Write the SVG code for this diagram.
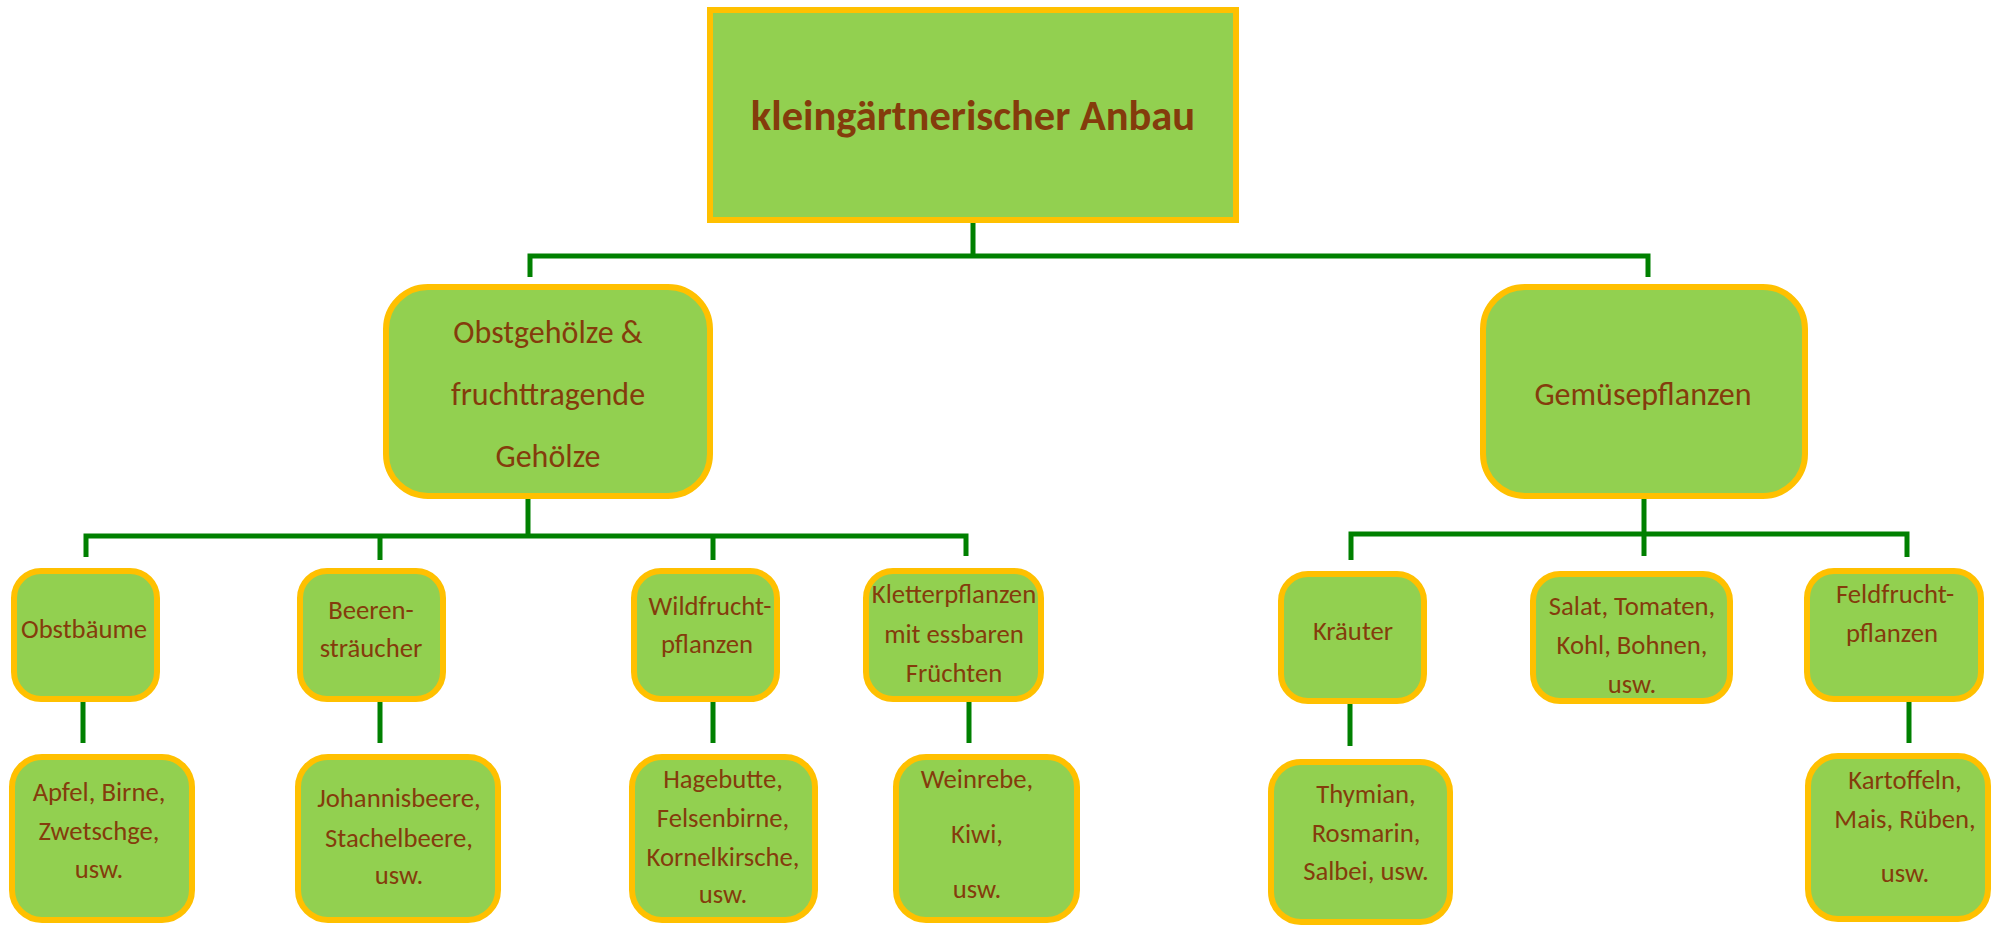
<svg xmlns="http://www.w3.org/2000/svg" width="1992" height="925" viewBox="0 0 1992 925">
<style>
.box{fill:#92D050;stroke:#FFC000;stroke-width:6}
.t{font-family:Carlito,Lato,"Liberation Sans",sans-serif;fill:#843C0C;text-anchor:middle}
.t0{font-size:42.5px;font-weight:bold}
.t2{font-size:32px}
.t3{font-size:26.7px}
.c{fill:none;stroke:#008000;stroke-width:5}
</style>
<rect width="1992" height="925" fill="#FFFFFF"/>
<g id="connectors">
<path class="c" d="M973,223 V256 M530,277 V256 H1648 V277"/>
<path class="c" d="M528,499 V536 M86,557 V536 H966 V556 M380,536 V560 M713,536 V560"/>
<path class="c" d="M1644,499 V556 M1351,560 V534 H1907 V557"/>
<path class="c" d="M83,702 V743 M380,702 V743 M713,702 V743 M969,702 V743 M1350,704 V746 M1909,702 V743"/>
</g>
<g id="root">
<rect class="box" x="710" y="10" width="526" height="210"/>
<text class="t t0" x="973" y="130">kleingärtnerischer Anbau</text>
</g>
<g id="obstgehoelze">
<rect class="box" x="386" y="287" width="324" height="209" rx="42"/>
<text class="t t2" x="548" y="343">Obstgehölze &amp;</text>
<text class="t t2" x="548" y="405">fruchttragende</text>
<text class="t t2" x="548" y="467">Gehölze</text>
</g>
<g id="gemuese">
<rect class="box" x="1483" y="287" width="322" height="209" rx="42"/>
<text class="t t2" x="1643" y="405">Gemüsepflanzen</text>
</g>
<g id="obstbaeume">
<rect class="box" x="14" y="571" width="143" height="128" rx="27"/>
<text class="t t3" x="84" y="638">Obstbäume</text>
</g>
<g id="beeren">
<rect class="box" x="300" y="571" width="143" height="128" rx="27"/>
<text class="t t3" x="371" y="619">Beeren-</text>
<text class="t t3" x="371" y="657">sträucher</text>
</g>
<g id="wildfrucht">
<rect class="box" x="634" y="571" width="143" height="128" rx="27"/>
<text class="t t3" x="710" y="615">Wildfrucht-</text>
<text class="t t3" x="707" y="653">pflanzen</text>
</g>
<g id="kletter">
<rect class="box" x="866" y="571" width="175" height="128" rx="27"/>
<text class="t t3" x="954" y="603">Kletterpflanzen</text>
<text class="t t3" x="954" y="643">mit essbaren</text>
<text class="t t3" x="954" y="682">Früchten</text>
</g>
<g id="apfel">
<rect class="box" x="12" y="757" width="180" height="163" rx="30"/>
<text class="t t3" x="99" y="801">Apfel, Birne,</text>
<text class="t t3" x="99" y="840">Zwetschge,</text>
<text class="t t3" x="99" y="878">usw.</text>
</g>
<g id="johannis">
<rect class="box" x="298" y="757" width="200" height="163" rx="30"/>
<text class="t t3" x="399" y="807">Johannisbeere,</text>
<text class="t t3" x="399" y="847">Stachelbeere,</text>
<text class="t t3" x="399" y="884">usw.</text>
</g>
<g id="hagebutte">
<rect class="box" x="632" y="757" width="183" height="163" rx="30"/>
<text class="t t3" x="723" y="788">Hagebutte,</text>
<text class="t t3" x="723" y="827">Felsenbirne,</text>
<text class="t t3" x="723" y="866">Kornelkirsche,</text>
<text class="t t3" x="723" y="903">usw.</text>
</g>
<g id="weinrebe">
<rect class="box" x="896" y="757" width="181" height="163" rx="30"/>
<text class="t t3" x="977" y="788">Weinrebe,</text>
<text class="t t3" x="977" y="843">Kiwi,</text>
<text class="t t3" x="977" y="898">usw.</text>
</g>
<g id="kraeuter">
<rect class="box" x="1281" y="574" width="143" height="127" rx="27"/>
<text class="t t3" x="1353" y="640">Kräuter</text>
</g>
<g id="salat">
<rect class="box" x="1533" y="574" width="197" height="127" rx="27"/>
<text class="t t3" x="1632" y="615">Salat, Tomaten,</text>
<text class="t t3" x="1632" y="654">Kohl, Bohnen,</text>
<text class="t t3" x="1632" y="693">usw.</text>
</g>
<g id="feldfrucht">
<rect class="box" x="1807" y="571" width="174" height="128" rx="27"/>
<text class="t t3" x="1895" y="603">Feldfrucht-</text>
<text class="t t3" x="1892" y="642">pflanzen</text>
</g>
<g id="thymian">
<rect class="box" x="1271" y="762" width="179" height="160" rx="30"/>
<text class="t t3" x="1366" y="803">Thymian,</text>
<text class="t t3" x="1366" y="842">Rosmarin,</text>
<text class="t t3" x="1366" y="880">Salbei, usw.</text>
</g>
<g id="kartoffeln">
<rect class="box" x="1808" y="756" width="180" height="163" rx="30"/>
<text class="t t3" x="1905" y="789">Kartoffeln,</text>
<text class="t t3" x="1905" y="828">Mais, Rüben,</text>
<text class="t t3" x="1905" y="882">usw.</text>
</g>
</svg>
